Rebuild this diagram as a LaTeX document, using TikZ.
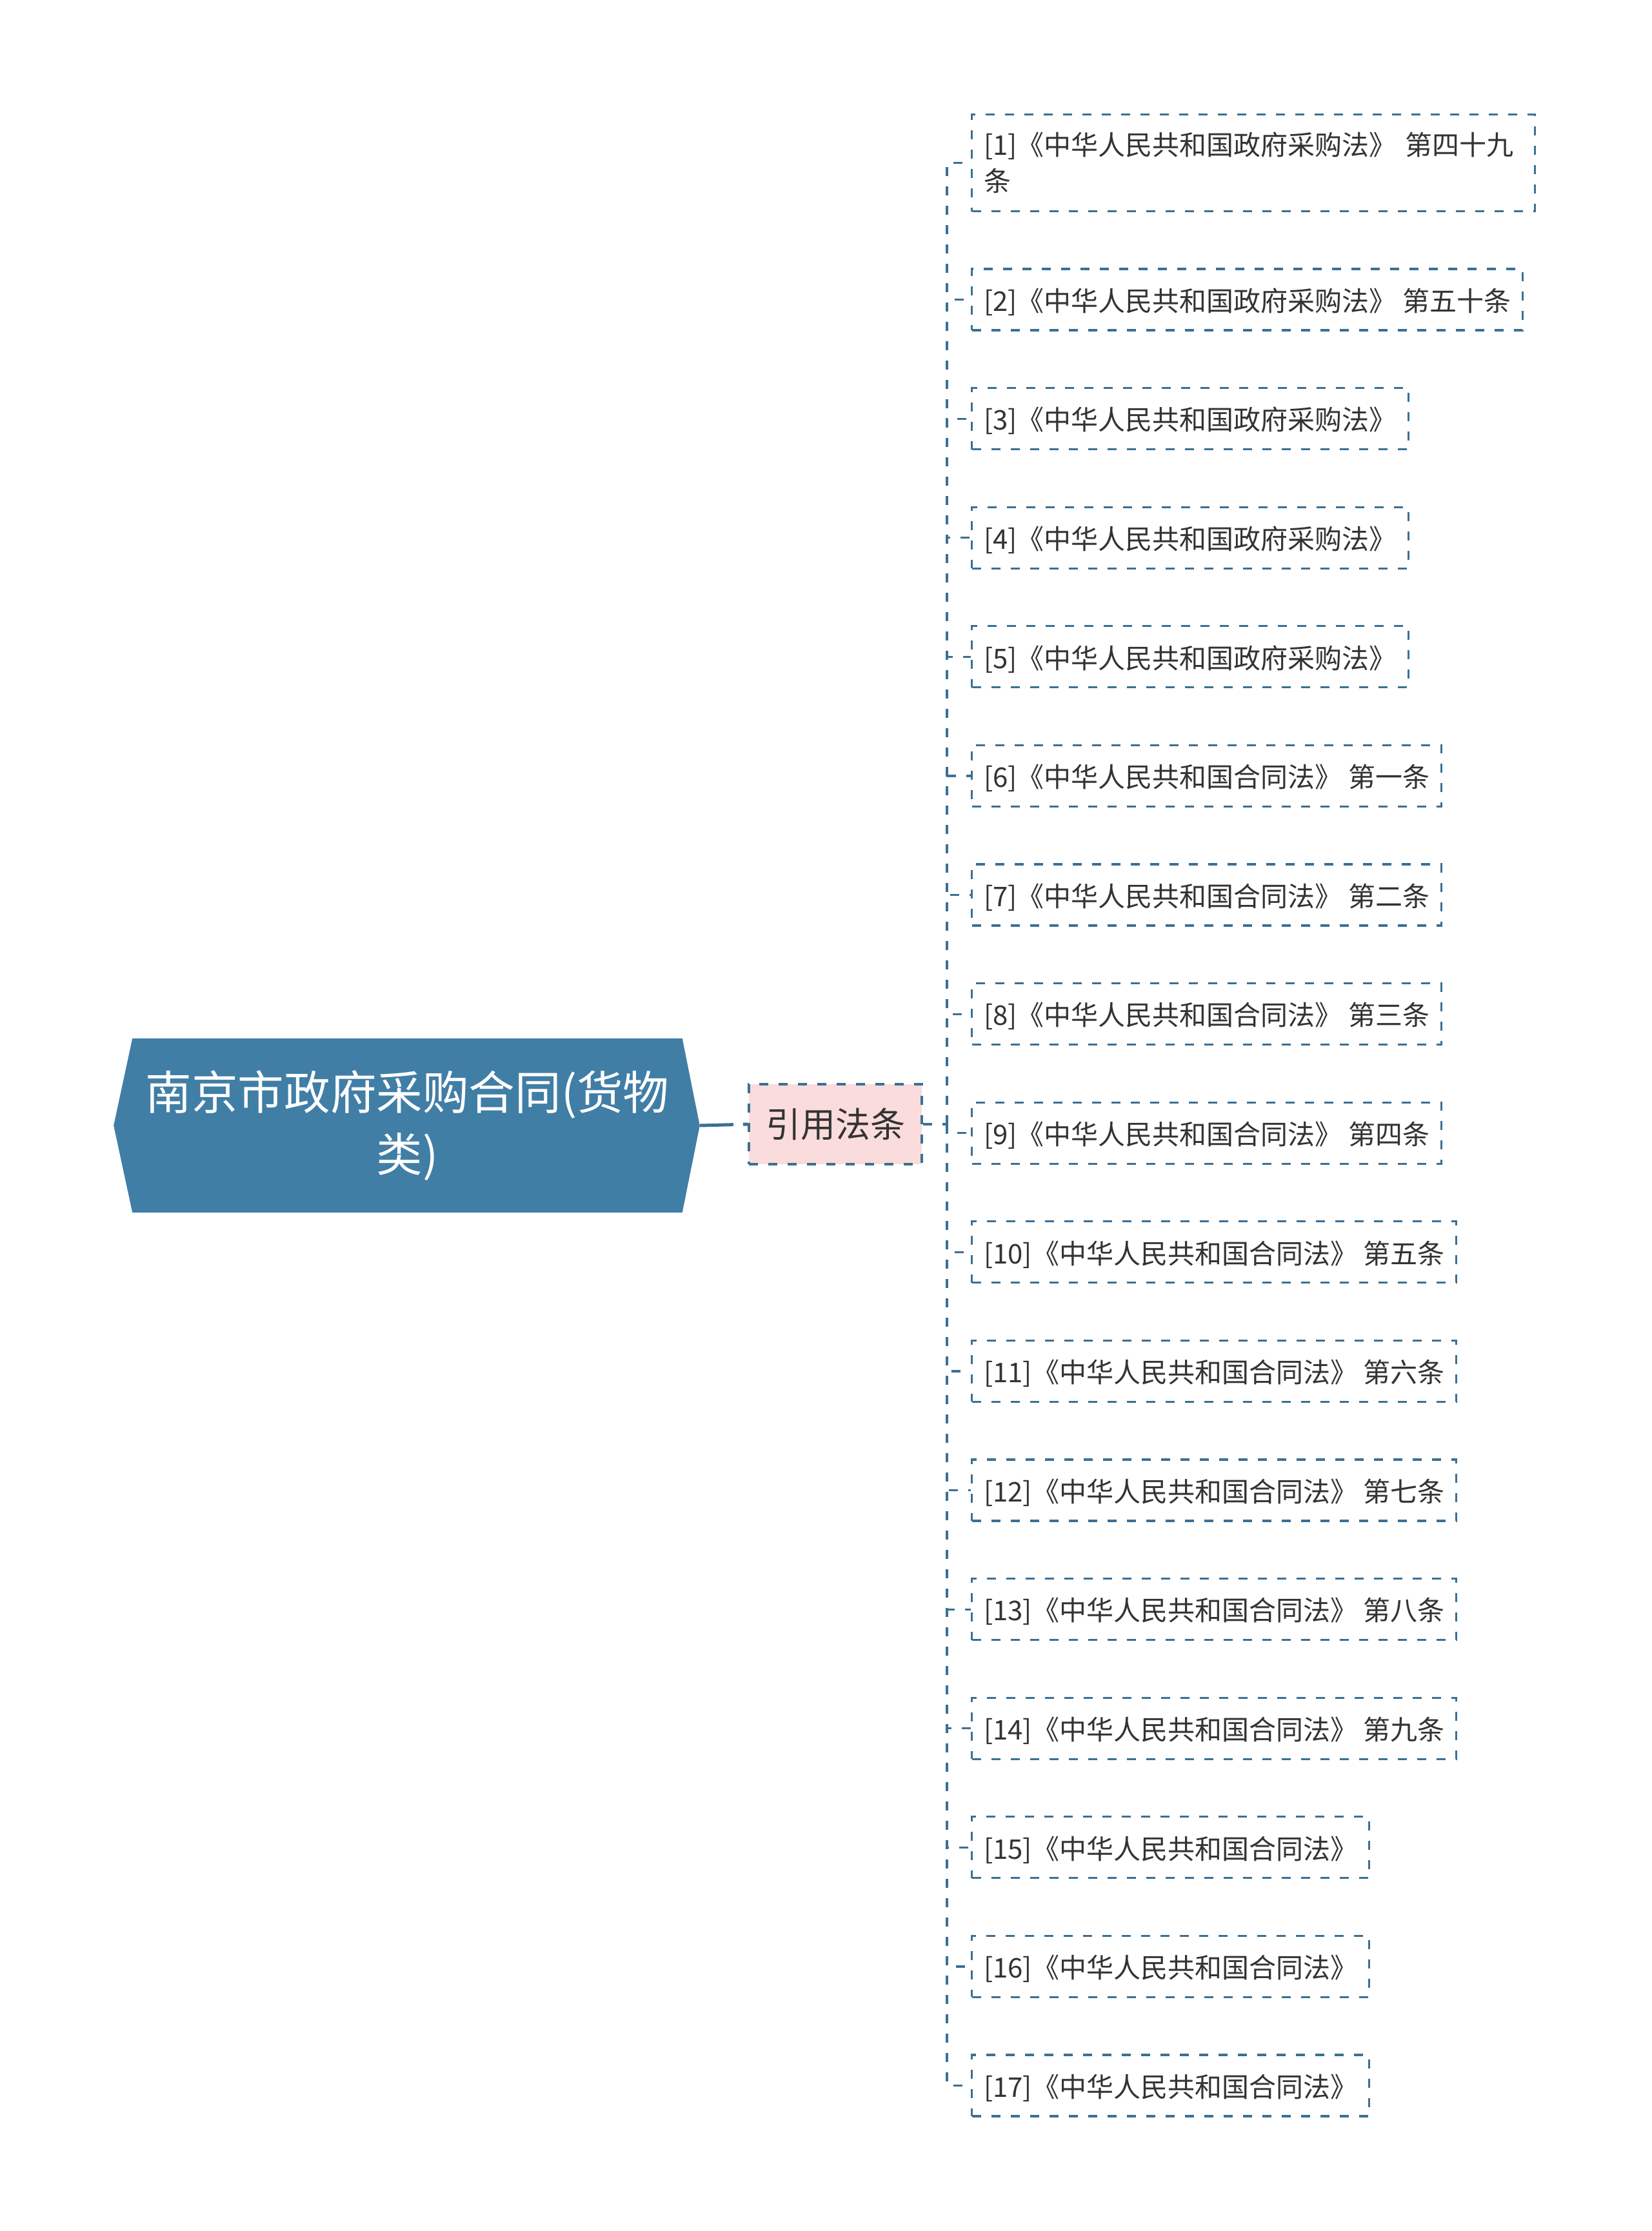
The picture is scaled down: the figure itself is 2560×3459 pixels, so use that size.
\documentclass[tikz,border=0pt]{standalone}
\usepackage{fontspec}
\setmainfont{Noto Sans CJK SC}
\usetikzlibrary{backgrounds}
\definecolor{rootblue}{RGB}{64,126,166}
\definecolor{linkblue}{RGB}{58,112,148}
\definecolor{citepink}{RGB}{250,220,220}
\definecolor{leaftext}{RGB}{51,51,51}

\begin{document}
\begin{tikzpicture}[x=0.25pt, y=-0.25pt,
  link/.style={draw=linkblue, line width=0.8pt, dash pattern=on 3.5pt off 4pt},
  leaf/.style={link, anchor=west, minimum height=23.75pt, inner xsep=4.6pt, text depth=0pt,
    text=leaftext, font=\fontsize{10.5pt}{14pt}\selectfont},
  elbow/.style={to path={|- (\tikztotarget)}}]
  \useasboundingbox (0,0) rectangle (2560,3459);

  \node[minimum width=212.75pt, minimum height=67pt, text=white, align=center,
        font=\fontsize{17.9pt}{24pt}\selectfont]   (root) at (631.5,1745) {南京市政府采购合同(货物\\类)};
  \node[link, fill=citepink, minimum width=67pt, minimum height=31pt, text=leaftext,
        font=\fontsize{13.5pt}{16pt}\selectfont]   (cite) at (1295,1743) {引用法条};
  \coordinate (tip)  at ([xshift=6.75pt]root.east);
  \coordinate (fork) at (1468,1743);

  \begin{scope}[on background layer]
    \fill[rootblue] (root.north west) -- (root.north east) -- (tip) -- (root.south east)
      -- (root.south west) -- ([xshift=-7.25pt]root.west) -- cycle;
  \end{scope}

  \node[leaf, text depth={}, text width=209pt, align=left, minimum height=37.5pt] (c1) at (1505,252.5)
    {[1]《中华人民共和国政府采购法》 第四十九\\条};
  \node[leaf] (c2)  at (1505,464.5)  {[2]《中华人民共和国政府采购法》 第五十条};
  \node[leaf] (c3)  at (1505,649.1)  {[3]《中华人民共和国政府采购法》};
  \node[leaf] (c4)  at (1505,833.7)  {[4]《中华人民共和国政府采购法》};
  \node[leaf] (c5)  at (1505,1018.3) {[5]《中华人民共和国政府采购法》};
  \node[leaf] (c6)  at (1505,1202.9) {[6]《中华人民共和国合同法》 第一条};
  \node[leaf] (c7)  at (1505,1387.5) {[7]《中华人民共和国合同法》 第二条};
  \node[leaf] (c8)  at (1505,1572.1) {[8]《中华人民共和国合同法》 第三条};
  \node[leaf] (c9)  at (1505,1756.7) {[9]《中华人民共和国合同法》 第四条};
  \node[leaf] (c10) at (1505,1941.3) {[10]《中华人民共和国合同法》 第五条};
  \node[leaf] (c11) at (1505,2125.9) {[11]《中华人民共和国合同法》 第六条};
  \node[leaf] (c12) at (1505,2310.5) {[12]《中华人民共和国合同法》 第七条};
  \node[leaf] (c13) at (1505,2495.1) {[13]《中华人民共和国合同法》 第八条};
  \node[leaf] (c14) at (1505,2679.7) {[14]《中华人民共和国合同法》 第九条};
  \node[leaf] (c15) at (1505,2864.3) {[15]《中华人民共和国合同法》};
  \node[leaf] (c16) at (1505,3048.9) {[16]《中华人民共和国合同法》};
  \node[leaf] (c17) at (1505,3233.5) {[17]《中华人民共和国合同法》};

  \draw[link, line width=1.25pt, dash pattern=on 13pt off 3.75pt] (tip) -- (cite.west);
  \path[link] (cite.east) edge (fork)
        (fork) edge[elbow] (c1)  edge[elbow] (c2)  edge[elbow] (c3)
               edge[elbow] (c4)  edge[elbow] (c5)  edge[elbow] (c6)
               edge[elbow] (c7)  edge[elbow] (c8)  edge[elbow] (c9)
               edge[elbow] (c10) edge[elbow] (c11) edge[elbow] (c12)
               edge[elbow] (c13) edge[elbow] (c14) edge[elbow] (c15)
               edge[elbow] (c16) edge[elbow] (c17);
\end{tikzpicture}
\end{document}
